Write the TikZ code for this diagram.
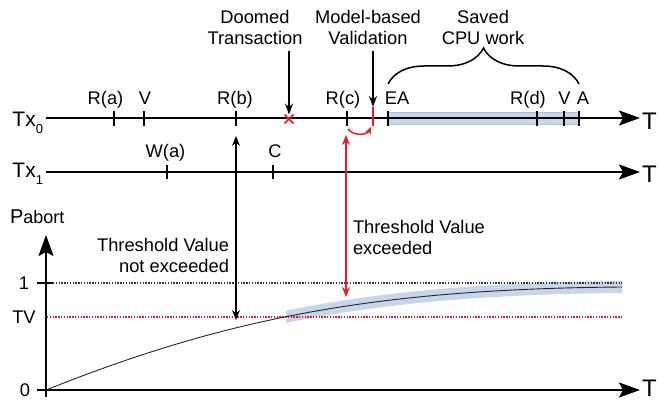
\documentclass[tikz,border=0pt]{standalone}
\usepackage{fontspec}
\setmainfont{Liberation Sans}
\usetikzlibrary{arrows.meta,decorations.pathreplacing,shapes.misc}
\definecolor{vred}{RGB}{232,28,36}
\definecolor{bandblue}{RGB}{200,214,236}
\definecolor{bandedge}{RGB}{172,192,222}
\begin{document}
\begin{tikzpicture}[x=1pt,y=-1pt,
  every node/.style={inner sep=0pt,outer sep=0pt},
  lbl/.style={font=\fontsize{18.3}{21}\selectfont},
  tlbl/.style={font=\fontsize{24}{24}\selectfont,anchor=west},
  txlbl/.style={font=\fontsize{21}{21}\selectfont,anchor=base east},
  axisline/.style={line width=2pt,-{Stealth[length=21pt,width=15pt,inset=4pt]}},
  tickmark/.style={line width=1.5pt},
  ptr/.style={line width=1.5pt,-{Stealth[length=11pt,width=8pt]}},
  dptr/.style={line width=1.5pt,{Stealth[length=10pt,width=8pt]}-{Stealth[length=10pt,width=8pt]}},
  band/.style={line width=12pt,draw=bandblue},
  dots/.style={line width=1.1pt,dash pattern=on 1.4pt off 1.4pt},
]
\useasboundingbox (0,0) rectangle (659,409);

% ---------------- Tx0 ----------------
\fill[bandblue,draw=bandedge,line width=0.6pt] (388,112.5) rectangle (579,124);
\coordinate (a0) at (46,118);
\coordinate (b0) at (640,118);
\draw[axisline] (a0) -- (b0);
\node[tlbl] (T0) at (642,121.5) {T};
\node[txlbl] (tx0) at (43,127) {Tx\raisebox{-7pt}{\fontsize{13}{13}\selectfont 0}};
\foreach \x in {114,144,236,347,388,537,564,579}
  \draw[tickmark] (\x,111) -- (\x,126);
\coordinate (rtop) at (373,107);
\coordinate (rbot) at (373,126);
\draw[tickmark,vred] (rtop) -- (rbot);

\node[lbl,anchor=base] (ra) at (105.5,105) {R(a)};
\node[lbl,anchor=base] (v1) at (145,105) {V};
\node[lbl,anchor=base] (rb) at (235,105) {R(b)};
\node[lbl,anchor=base] (rc) at (343,105) {R(c)};
\node[lbl,anchor=base] (ea) at (397,105) {EA};
\node[lbl,anchor=base] (rd) at (528,105) {R(d)};
\node[lbl,anchor=base] (v2) at (564.5,105) {V};
\node[lbl,anchor=base] (aa) at (583,105) {A};

% ---------------- Tx1 ----------------
\coordinate (a1) at (46,172);
\coordinate (b1) at (640,172);
\draw[axisline] (a1) -- (b1);
\node[tlbl] (T1) at (642,174) {T};
\node[txlbl] (tx1) at (43,178) {Tx\raisebox{-7pt}{\fontsize{13}{13}\selectfont 1}};
\foreach \x in {167,273}
  \draw[tickmark] (\x,165) -- (\x,179);
\node[lbl,anchor=base] (wa) at (165.5,158) {W(a)};
\node[lbl,anchor=base] (cc) at (275,158) {C};

% ---------------- top annotations ----------------
\node[lbl,align=center,anchor=north] (doom) at (255,10) {Doomed\\Transaction};
\node[lbl,align=center,anchor=north] (mbv) at (368,10) {Model-based\\Validation};
\node[lbl,align=center,anchor=north] (saved) at (483,10) {Saved\\CPU work};

\node[cross out,draw=vred,line width=1.5pt,minimum size=9pt] (dx) at (289,119) {};
\draw[ptr] ([yshift=-7pt]dx.north |- doom.south) -- (dx.north);
\draw[ptr] ([yshift=-7pt]rtop |- mbv.south) -- (rtop);

\coordinate (bl) at (388,84);
\coordinate (br) at (579,84);
\draw[line width=1.5pt,decorate,decoration={brace,amplitude=36pt}] (bl) -- (br);

% red curved arrow R(c) -> validation
\coordinate (rcs) at (348,129);
\coordinate (rce) at (371,127);
\draw[vred,line width=1.5pt,-{Stealth[length=7pt,width=6pt]}] (rcs) to[bend right=60] (rce);

% ---------------- graph ----------------
\coordinate (c0) at (46,390);
\coordinate (c3) at (622,287);
\begin{scope}
  \clip (286,250) rectangle (622,335);
  \draw[band] (c0) .. controls (226,318) and (376,289) .. (c3);
\end{scope}
\coordinate (ybot) at (46,397);
\coordinate (ytop) at (46,235);
\coordinate (xl) at (37,390);
\coordinate (xr) at (640,390);
\draw[axisline] (ybot) -- (ytop);
\draw[axisline] (xl) -- (xr);
\node[tlbl] (T2) at (642,388) {T};
\coordinate (t1l) at (37,283);
\coordinate (t1r) at (53,283);
\draw[tickmark] (t1l) -- (t1r);
\coordinate (d1r) at (622,283);
\draw[dots,black!80] (t1r) -- (d1r);
\coordinate (tvl) at (47,317);
\coordinate (tvr) at (622,317);
\draw[dots,vred] (tvl) -- (tvr);

\draw[line width=0.9pt,black!85] (c0) .. controls (226,318) and (376,289) .. (c3);

\node[lbl,anchor=base] (one) at (24,289) {1};
\node[lbl,anchor=base] (tv) at (24,323) {TV};
\node[lbl,anchor=base] (zero) at (25,396) {0};
\node[anchor=base west] (pab) at (10,223) {\fontsize{20}{20}\selectfont P\fontsize{18}{18}\selectfont abort};

% threshold arrows
\coordinate (ba1) at (236,136);
\coordinate (ba2) at (236,320);
\draw[dptr] (ba1) -- (ba2);
\coordinate (ra1) at (346,135);
\coordinate (ra2) at (346,297);
\draw[dptr,vred] (ra1) -- (ra2);

\node[lbl,align=right,anchor=north east] (tvne) at (229,238) {Threshold Value\\not exceeded};
\node[lbl,align=left,anchor=north west] (tve) at (353,220) {Threshold Value\\exceeded};
\end{tikzpicture}
\end{document}
